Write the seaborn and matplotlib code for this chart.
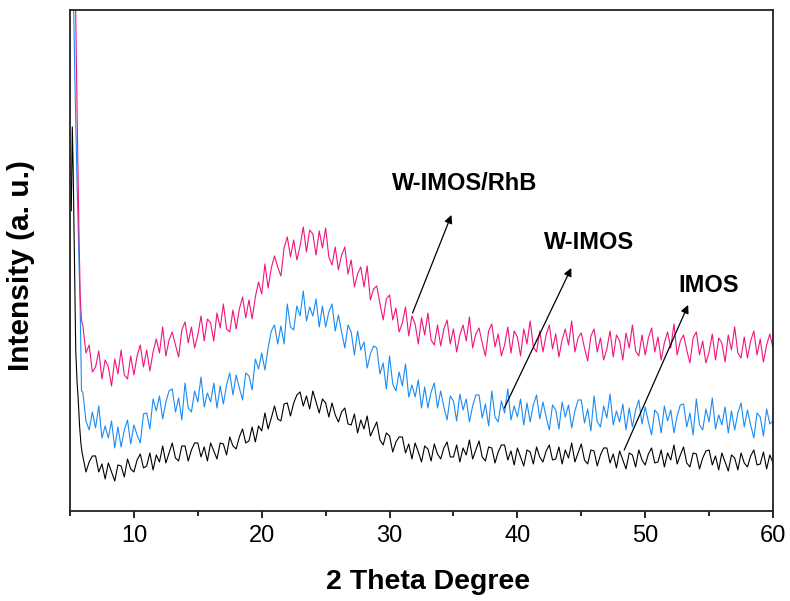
import numpy as np
import pandas as pd
import matplotlib
matplotlib.use("Agg")
import matplotlib.pyplot as plt
from matplotlib.ticker import MultipleLocator
import seaborn as sns

# === data (intensity in arbitrary units) ===
# steep low-angle rise, one short list per sample
head_x_imos = [5.10, 5.18, 5.25, 5.35, 5.45, 5.55, 5.65, 5.75, 5.85, 5.95]
head_y_imos = [300, 384, 340, 250, 160, 130, 110, 85, 68, 58]
head_x_wimos = [5.15, 5.25, 5.40, 5.55, 5.70, 5.80, 5.90]
head_y_wimos = [520, 530, 420, 330, 250, 200, 120]
head_x_rhb = [5.30, 5.40, 5.50, 5.60, 5.70, 5.80, 5.90]
head_y_rhb = [520, 540, 450, 360, 280, 215, 190]

# main scan, 6 to 60 deg, 0.25 deg steps
two_theta = np.arange(6.0, 60.01, 0.25)

imos = [
    55, 39, 49, 55, 55, 39, 47, 32, 48, 39, 30, 46, 45, 34, 52, 42,
    39, 51, 57, 43, 45, 58, 41, 56, 49, 65, 48, 58, 68, 53, 50, 65,
    65, 50, 61, 68, 68, 54, 64, 50, 68, 60, 52, 68, 67, 56, 74, 65,
    62, 74, 82, 68, 70, 84, 69, 85, 80, 98, 82, 93, 105, 92, 90, 107,
    108, 95, 108, 116, 119, 105, 115, 102, 120, 109, 98, 112, 108, 94, 108, 96,
    89, 99, 103, 87, 86, 97, 78, 91, 82, 95, 75, 82, 89, 71, 66, 78,
    75, 59, 69, 74, 74, 58, 67, 52, 68, 59, 49, 65, 62, 50, 67, 57,
    52, 63, 69, 54, 54, 66, 49, 63, 56, 71, 52, 61, 70, 54, 50, 64,
    63, 48, 59, 66, 66, 51, 60, 46, 63, 54, 45, 61, 59, 47, 64, 54,
    49, 60, 66, 51, 52, 64, 47, 61, 53, 68, 49, 58, 67, 51, 47, 61,
    60, 45, 56, 63, 63, 48, 57, 43, 60, 51, 42, 58, 56, 44, 61, 51,
    46, 57, 63, 48, 49, 61, 44, 58, 51, 66, 47, 56, 64, 48, 44, 58,
    57, 42, 53, 60, 61, 46, 55, 41, 58, 49, 40, 56, 53, 41, 58, 48,
    44, 55, 61, 46, 47, 59, 42, 56, 48,
]

w_imos = [
    119, 90, 81, 99, 83, 105, 73, 85, 73, 90, 63, 84, 64, 81, 91, 67,
    86, 76, 68, 97, 98, 82, 112, 100, 115, 92, 109, 120, 122, 99, 113, 91,
    128, 103, 99, 120, 109, 134, 104, 118, 109, 128, 103, 125, 107, 126, 138, 116,
    136, 123, 111, 138, 135, 121, 152, 142, 158, 141, 163, 180, 186, 167, 185, 167,
    207, 184, 181, 205, 195, 220, 190, 204, 195, 212, 184, 205, 184, 199, 207, 180,
    196, 179, 163, 186, 179, 156, 180, 161, 169, 143, 157, 165, 163, 137, 148, 122,
    155, 127, 120, 139, 125, 147, 114, 126, 114, 131, 103, 124, 103, 119, 128, 103,
    120, 104, 91, 115, 110, 90, 117, 101, 112, 89, 105, 116, 116, 93, 107, 85,
    120, 94, 89, 110, 98, 122, 91, 105, 94, 112, 86, 108, 89, 106, 116, 92,
    109, 94, 81, 106, 101, 82, 109, 94, 106, 83, 100, 111, 111, 88, 102, 80,
    115, 89, 84, 105, 93, 117, 86, 100, 89, 107, 81, 103, 84, 101, 111, 87,
    104, 89, 76, 101, 97, 78, 105, 90, 101, 78, 95, 106, 107, 84, 98, 76,
    112, 86, 81, 102, 89, 113, 82, 96, 86, 104, 78, 100, 81, 98, 108, 84,
    101, 86, 73, 98, 94, 75, 102, 87, 90,
]

w_imos_rhb = [
    186, 158, 166, 139, 144, 160, 132, 151, 144, 125, 152, 137, 161, 136, 132, 155,
    136, 155, 166, 144, 161, 140, 159, 172, 158, 184, 155, 171, 179, 166, 154, 181,
    189, 168, 184, 163, 176, 195, 170, 192, 188, 170, 198, 183, 207, 182, 179, 201,
    182, 202, 214, 193, 211, 192, 214, 229, 217, 247, 223, 243, 255, 244, 235, 263,
    274, 254, 271, 251, 265, 284, 259, 281, 277, 256, 280, 263, 283, 254, 246, 264,
    241, 256, 264, 237, 251, 224, 237, 244, 224, 245, 211, 222, 225, 207, 191, 212,
    216, 191, 203, 179, 188, 204, 175, 195, 187, 167, 193, 176, 198, 171, 166, 186,
    165, 182, 191, 167, 182, 159, 176, 186, 170, 194, 163, 177, 183, 168, 155, 180,
    187, 164, 177, 155, 166, 184, 158, 180, 174, 155, 182, 167, 190, 164, 159, 180,
    159, 176, 186, 162, 177, 154, 171, 182, 166, 190, 159, 173, 178, 163, 150, 175,
    182, 159, 173, 151, 162, 180, 154, 176, 170, 151, 178, 163, 186, 160, 155, 176,
    156, 173, 183, 159, 174, 151, 168, 179, 163, 187, 156, 170, 176, 161, 148, 173,
    179, 156, 170, 148, 159, 177, 151, 173, 168, 149, 176, 161, 184, 158, 153, 174,
    153, 170, 180, 156, 172, 149, 166, 177, 163,
]

samples = ["IMOS", "W-IMOS", "W-IMOS/RhB"]
colors = {"IMOS": "#000000", "W-IMOS": "#1a8cf5", "W-IMOS/RhB": "#f0157e"}

# long-form table for seaborn
frames = []
for name, hx, hy, y in [
    ("IMOS", head_x_imos, head_y_imos, imos),
    ("W-IMOS", head_x_wimos, head_y_wimos, w_imos),
    ("W-IMOS/RhB", head_x_rhb, head_y_rhb, w_imos_rhb),
]:
    frames.append(pd.DataFrame({
        "two_theta": list(hx) + list(two_theta),
        "intensity": list(hy) + list(y),
        "sample": name,
    }))
df = pd.concat(frames, ignore_index=True)

sns.set_style("ticks", {"text.color": "black", "axes.labelcolor": "black",
                        "xtick.color": "black", "ytick.color": "black"})
plt.rcParams["font.family"] = ["Liberation Sans", "DejaVu Sans"]

fig = plt.figure(figsize=(7.9, 6.01), dpi=100)
ax = fig.add_axes([0.0886, 0.1498, 0.8899, 0.8336])

sns.lineplot(data=df, x="two_theta", y="intensity", hue="sample",
             hue_order=samples, palette=colors, estimator=None, sort=False,
             linewidth=0.8, legend=False, ax=ax)

ax.set_xlim(5, 60)
ax.set_ylim(0, 501)
ax.set_yticks([])
ax.xaxis.set_major_locator(MultipleLocator(10))
ax.xaxis.set_minor_locator(MultipleLocator(5))
ax.tick_params(axis="x", which="major", direction="out", length=5, width=1.2,
               labelsize=17, pad=5, colors="black")
ax.tick_params(axis="x", which="minor", direction="out", length=3.5, width=1.2)
for s in ax.spines.values():
    s.set_visible(True)
    s.set_linewidth(1.3)
    s.set_color("#222222")

ax.set_xlabel("2 Theta Degree", fontsize=20.5, fontweight="bold", color="black")
ax.set_ylabel("Intensity (a. u.)", fontsize=21.5, fontweight="bold", color="black")
ax.xaxis.set_label_coords(0.51, -0.116)
ax.yaxis.set_label_coords(-0.05, 0.489)

# labels with arrows
labels = [
    ("W-IMOS/RhB", (35.86, 327), (31.8, 198), (34.84, 296)),
    ("W-IMOS", (45.6, 268), (38.98, 103), (44.22, 243)),
    ("IMOS", (55.0, 225), (48.36, 61), (53.36, 206)),
]
for text, pos, tail, head in labels:
    ax.text(pos[0], pos[1], text, fontsize=17, fontweight="bold",
            ha="center", va="center", color="black")
    ax.annotate("", xy=head, xytext=tail,
                arrowprops=dict(arrowstyle="-|>", color="black", lw=0.9,
                                mutation_scale=12, shrinkA=0, shrinkB=0))

fig.savefig("out.png", dpi=100)
